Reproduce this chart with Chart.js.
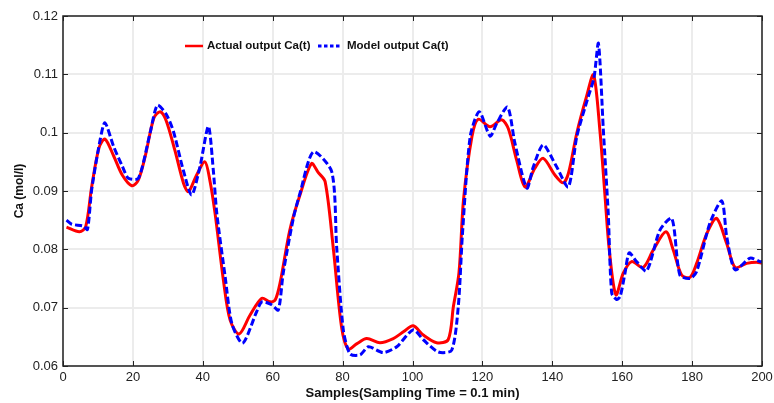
<!DOCTYPE html>
<html>
<head>
<meta charset="utf-8">
<script src="https://cdn.jsdelivr.net/npm/chart.js@4/dist/chart.umd.min.js"></script>
<style>
  html, body { margin: 0; padding: 0; background: #fff; }
  #wrap { width: 774px; height: 403px; }
</style>
</head>
<body>
<div id="wrap"><canvas id="graficoCa"></canvas></div>
<script>
// Salida real del reactor
const muestrasReal = [1, 4.7, 6.5, 8.2, 10.3, 12, 14.5, 17, 19.7, 21.5, 23.5, 26, 27.8, 29.5, 32, 34.5, 35.9, 38.2, 40.6, 42,
    43.5, 45.9, 47.8, 50.4, 53.5, 56.9, 59.2, 60.7, 62.1, 64.9, 67.8, 71.1, 73, 75, 77.3, 79.7, 81.6, 84, 86.9, 90.7,
    94.5, 97.5, 100.2, 103.1, 106.9, 110.2, 111.7, 113.3, 114.6, 117, 118.8, 122.2, 125.5, 127.4, 129.8, 132.2, 135, 137.4, 140.8, 143.1,
    144.6, 147, 149.8, 151.8, 153.6, 155.1, 156.3, 158.2, 160.3, 162.7, 166, 168.9, 172.5, 174.6, 177, 179.4, 181.3, 184.2, 187, 189.9,
    192.3, 195.6, 198.5, 200];
const valoresReal = [0.0838, 0.0830, 0.0839, 0.0907, 0.0974, 0.0989, 0.0960, 0.0927, 0.0909, 0.0918, 0.0959, 0.1025, 0.1036, 0.1021, 0.0970, 0.0913, 0.0899, 0.0927, 0.0950, 0.0919,
    0.0862, 0.0747, 0.0679, 0.0655, 0.0687, 0.0716, 0.0710, 0.0713, 0.0742, 0.0833, 0.0893, 0.0947, 0.0932, 0.0916, 0.0804, 0.0667, 0.0629, 0.0638, 0.0647, 0.0640,
    0.0647, 0.0659, 0.0669, 0.0653, 0.0640, 0.0645, 0.0702, 0.0760, 0.0885, 0.0993, 0.1023, 0.1010, 0.1022, 0.1007, 0.0953, 0.0907, 0.0939, 0.0956, 0.0927, 0.0914,
    0.0930, 0.0999, 0.1062, 0.1099, 0.1005, 0.0890, 0.0799, 0.0722, 0.0759, 0.0779, 0.0769, 0.0799, 0.0830, 0.0799, 0.0756, 0.0752, 0.0776, 0.0827, 0.0853, 0.0810,
    0.0769, 0.0776, 0.0778, 0.0776];

// Salida del modelo
const muestrasModelo = [1, 2.5, 5.8, 7, 8.2, 10.6, 12, 14.5, 17, 18.7, 21.6, 24.9, 27, 29.5, 31.6, 34.4, 36.8, 39.2, 41.6, 43,
    44, 46.4, 48.3, 51.4, 55.4, 56.9, 59.7, 61.6, 63, 65.9, 67.8, 71.6, 76.9, 78.3, 80.2, 82.1, 85, 87.4, 91.6, 95.5,
    100.2, 103.1, 107.4, 111.2, 113.1, 114.3, 116.5, 119.1, 122.2, 124.1, 127.2, 129.3, 132.7, 134.6, 137.4, 141.2, 144.6, 147, 150.3, 151.9,
    153.2, 154.6, 156, 157, 158.4, 159.4, 160.8, 162, 164.1, 167, 170.8, 174.2, 176.5, 179.4, 181.3, 185.1, 188.5, 189.9, 192.3, 196.6,
    199.4, 200];
const valoresModelo = [0.0850, 0.0843, 0.0840, 0.0834, 0.0902, 0.0987, 0.1017, 0.0976, 0.0942, 0.0922, 0.0922, 0.0999, 0.1047, 0.1032, 0.1002, 0.0936, 0.0893, 0.0942, 0.1011, 0.0936,
    0.0862, 0.0753, 0.0673, 0.0639, 0.0693, 0.0710, 0.0705, 0.0696, 0.0759, 0.0853, 0.0896, 0.0967, 0.0933, 0.0804, 0.0662, 0.0621, 0.0619, 0.0633, 0.0623, 0.0633,
    0.0662, 0.0645, 0.0624, 0.0627, 0.0702, 0.0827, 0.0993, 0.1036, 0.0994, 0.1016, 0.1044, 0.0982, 0.0905, 0.0942, 0.0979, 0.0942, 0.0907, 0.0993, 0.1062, 0.1093,
    0.1153, 0.1005, 0.0862, 0.0725, 0.0714, 0.0719, 0.0759, 0.0794, 0.0779, 0.0763, 0.0833, 0.0853, 0.0756, 0.0750, 0.0762, 0.0845, 0.0883, 0.0822, 0.0765, 0.0785,
    0.0779, 0.0779];

const etiquetaReal = "Actual output Ca(t)";
const etiquetaModelo = "Model output Ca(t)";

const fuente = "'Liberation Sans', Arial, sans-serif";

function aPuntos(xs, ys) {
    return xs.map((x, i) => ({ x: x, y: ys[i] }));
}

// Marco completo y marcas hacia adentro, al estilo MATLAB
const marcoPlugin = {
    id: "marco",
    afterDraw(chart) {
        const { ctx, chartArea: a, scales } = chart;
        ctx.save();
        ctx.strokeStyle = "#222";
        ctx.lineWidth = 1.5;
        ctx.strokeRect(a.left, a.top, a.right - a.left, a.bottom - a.top);
        ctx.lineWidth = 1;
        scales.x.ticks.forEach(t => {
            const px = Math.round(scales.x.getPixelForValue(t.value)) + 0.5;
            ctx.beginPath();
            ctx.moveTo(px, a.top); ctx.lineTo(px, a.top + 5);
            ctx.moveTo(px, a.bottom); ctx.lineTo(px, a.bottom - 5);
            ctx.stroke();
        });
        scales.y.ticks.forEach(t => {
            const py = Math.round(scales.y.getPixelForValue(t.value)) + 0.5;
            ctx.beginPath();
            ctx.moveTo(a.left, py); ctx.lineTo(a.left + 5, py);
            ctx.moveTo(a.right, py); ctx.lineTo(a.right - 5, py);
            ctx.stroke();
        });
        ctx.restore();
    }
};

// Leyenda dentro del área del gráfico
const leyendaPlugin = {
    id: "leyendaInterna",
    afterDraw(chart) {
        const { ctx } = chart;
        const y = 46;
        ctx.save();
        ctx.font = "bold 11.5px " + fuente;
        ctx.textBaseline = "middle";
        ctx.fillStyle = "#111";

        ctx.strokeStyle = "#ff0000";
        ctx.lineWidth = 2.5;
        ctx.beginPath();
        ctx.moveTo(185, y); ctx.lineTo(203, y);
        ctx.stroke();
        ctx.fillText(etiquetaReal, 207, y);

        ctx.strokeStyle = "#0000ff";
        ctx.lineWidth = 3;
        ctx.setLineDash([3.5, 2.5]);
        ctx.beginPath();
        ctx.moveTo(318, y); ctx.lineTo(340, y);
        ctx.stroke();
        ctx.setLineDash([]);
        ctx.fillText(etiquetaModelo, 347, y);
        ctx.restore();
    }
};

const configuracion = {
    type: "line",
    data: {
        datasets: [
            {
                label: etiquetaModelo,
                data: aPuntos(muestrasModelo, valoresModelo),
                borderColor: "#0000ff",
                borderWidth: 3,
                borderDash: [7, 3],
                pointRadius: 0,
                tension: 0.25,
                order: 0
            },
            {
                label: etiquetaReal,
                data: aPuntos(muestrasReal, valoresReal),
                borderColor: "#ff0000",
                borderWidth: 3,
                pointRadius: 0,
                tension: 0.3,
                order: 1
            }
        ]
    },
    options: {
        responsive: false,
        animation: false,
        layout: { padding: { left: 0, right: 12, top: 16, bottom: 0 } },
        plugins: {
            legend: { display: false },
            tooltip: { enabled: false }
        },
        scales: {
            x: {
                type: "linear",
                min: 0,
                max: 200,
                ticks: { stepSize: 20, color: "#222", font: { family: fuente, size: 13 }, padding: 4, maxRotation: 0 },
                grid: { color: "#ececec", lineWidth: 2, drawTicks: false },
                border: { display: false },
                title: {
                    display: true,
                    text: "Samples(Sampling Time = 0.1 min)",
                    color: "#111",
                    font: { family: fuente, size: 13, weight: "bold" },
                    padding: { top: 0, bottom: 2 }
                },
                afterFit(scale) {
                    scale.height = 37;
                    scale.paddingLeft = 0;
                    scale.paddingRight = 0;
                }
            },
            y: {
                min: 0.06,
                max: 0.12,
                ticks: {
                    stepSize: 0.01,
                    color: "#222",
                    font: { family: fuente, size: 13 },
                    padding: 5,
                    callback: v => String(parseFloat(v.toFixed(2)))
                },
                grid: { color: "#ececec", lineWidth: 2, drawTicks: false },
                border: { display: false },
                title: {
                    display: true,
                    text: "Ca (mol/l)",
                    color: "#111",
                    font: { family: fuente, size: 12, weight: "bold" },
                    padding: { top: 12, bottom: 0 }
                },
                afterFit(scale) {
                    scale.width = 63;
                    scale.paddingTop = 0;
                    scale.paddingBottom = 0;
                }
            }
        }
    },
    plugins: [marcoPlugin, leyendaPlugin]
};

const lienzo = document.querySelector("#graficoCa");
lienzo.width = 774;
lienzo.height = 403;
new Chart(lienzo, configuracion);
</script>
</body>
</html>
